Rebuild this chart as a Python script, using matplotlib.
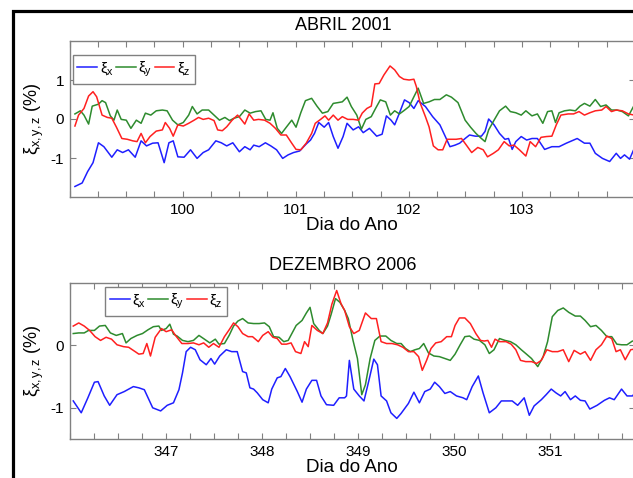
import matplotlib
matplotlib.use('Agg')
import matplotlib.pyplot as plt
from matplotlib.ticker import MultipleLocator, FixedLocator
from matplotlib.patches import Rectangle

plt.rcParams['font.family'] = ['Liberation Sans', 'DejaVu Sans']
plt.rcParams['mathtext.fontset'] = 'custom'
plt.rcParams['mathtext.rm'] = 'Liberation Sans'
plt.rcParams['mathtext.it'] = 'Liberation Sans'
plt.rcParams['axes.unicode_minus'] = False

# ---- ABRIL 2001 (days 99-104) ----
abr_day_x = [99.048, 99.112, 99.160, 99.208, 99.256, 99.304, 99.374, 99.422, 99.470, 99.521,
             99.581, 99.633, 99.681, 99.735, 99.783, 99.837, 99.879, 99.917, 99.958, 100.013,
             100.070, 100.128, 100.182, 100.230, 100.294, 100.342, 100.390, 100.444, 100.502, 100.550,
             100.597, 100.629, 100.677, 100.732, 100.780, 100.831, 100.885, 100.933, 100.981, 101.035,
             101.093, 101.131, 101.166, 101.204, 101.252, 101.291, 101.332, 101.374, 101.419, 101.454,
             101.508, 101.556, 101.597, 101.652, 101.716, 101.764, 101.802, 101.843, 101.875, 101.917,
             101.962, 102.003, 102.045, 102.083, 102.147, 102.211, 102.275, 102.323, 102.364, 102.409,
             102.450, 102.498, 102.537, 102.588, 102.642, 102.674, 102.706, 102.754, 102.802, 102.850,
             102.882, 102.914, 102.946, 102.994, 103.042, 103.089, 103.137, 103.201, 103.265, 103.329,
             103.393, 103.489, 103.553, 103.601, 103.649, 103.712, 103.776, 103.834, 103.872, 103.907,
             103.952, 103.994]
abr_xi_x = [-1.73, -1.64, -1.35, -1.12, -0.61, -0.71, -0.98, -0.79, -0.86, -0.79,
            -0.98, -0.56, -0.69, -0.62, -0.61, -1.12, -0.61, -0.56, -0.97, -0.98,
            -0.79, -1.01, -0.86, -0.79, -0.56, -0.61, -0.69, -0.61, -0.84, -0.71,
            -0.79, -0.67, -0.71, -0.61, -0.69, -0.79, -1.01, -0.92, -0.86, -0.82,
            -0.64, -0.54, -0.37, -0.09, -0.21, -0.09, -0.45, -0.75, -0.45, -0.11,
            -0.28, -0.20, -0.35, -0.24, -0.44, -0.39, 0.08, -0.03, -0.15, 0.15,
            0.49, 0.42, 0.27, 0.47, 0.32, 0.06, -0.15, -0.45, -0.71, -0.67,
            -0.62, -0.50, -0.41, -0.44, -0.44, -0.32, 0.00, -0.15, -0.37, -0.52,
            -0.50, -0.78, -0.58, -0.45, -0.54, -0.50, -0.50, -0.78, -0.71, -0.71,
            -0.62, -0.50, -0.62, -0.62, -0.88, -1.01, -1.09, -0.88, -1.01, -0.92,
            -1.03, -0.75]

abr_day_y = [99.048, 99.096, 99.128, 99.169, 99.201, 99.256, 99.288, 99.319, 99.361, 99.393,
             99.422, 99.457, 99.502, 99.543, 99.591, 99.633, 99.671, 99.719, 99.767, 99.821,
             99.863, 99.911, 99.958, 100.006, 100.054, 100.086, 100.128, 100.173, 100.230, 100.278,
             100.326, 100.374, 100.415, 100.454, 100.502, 100.550, 100.597, 100.645, 100.693, 100.735,
             100.773, 100.799, 100.837, 100.875, 100.917, 100.965, 101.003, 101.045, 101.086, 101.141,
             101.188, 101.236, 101.284, 101.332, 101.374, 101.412, 101.454, 101.492, 101.540, 101.581,
             101.620, 101.668, 101.706, 101.748, 101.796, 101.837, 101.875, 101.917, 101.955, 102.003,
             102.045, 102.083, 102.131, 102.179, 102.227, 102.275, 102.332, 102.377, 102.435, 102.498,
             102.546, 102.594, 102.642, 102.674, 102.706, 102.754, 102.802, 102.856, 102.898, 102.946,
             102.994, 103.035, 103.089, 103.137, 103.185, 103.227, 103.265, 103.297, 103.329, 103.377,
             103.425, 103.473, 103.514, 103.553, 103.601, 103.649, 103.696, 103.744, 103.792, 103.840,
             103.888, 103.942, 103.994]
abr_xi_y = [0.13, 0.21, 0.10, -0.13, 0.33, 0.38, 0.47, 0.42, 0.08, -0.03,
            0.23, -0.01, -0.03, -0.24, -0.03, -0.11, 0.15, 0.10, 0.21, 0.23,
            0.21, -0.03, -0.15, -0.09, 0.10, 0.32, 0.13, 0.23, 0.23, 0.10,
            -0.03, 0.04, -0.04, 0.02, 0.06, 0.23, 0.15, 0.19, 0.21, -0.01,
            -0.03, 0.16, -0.24, -0.37, -0.21, -0.03, -0.21, 0.16, 0.47, 0.53,
            0.33, 0.15, 0.19, 0.40, 0.42, 0.44, 0.56, 0.32, 0.10, -0.26,
            -0.01, 0.06, 0.27, 0.49, 0.44, 0.10, 0.21, 0.13, 0.21, 0.32,
            0.57, 0.79, 0.40, 0.44, 0.50, 0.50, 0.62, 0.56, 0.42, -0.03,
            -0.21, -0.37, -0.50, -0.58, -0.28, -0.03, 0.21, 0.33, 0.19, 0.16,
            0.10, 0.21, 0.08, 0.13, -0.11, 0.19, 0.21, -0.09, 0.16, 0.21,
            0.23, 0.21, 0.33, 0.40, 0.33, 0.50, 0.32, 0.36, 0.23, 0.23,
            0.19, 0.08, 0.36]

abr_day_z = [99.048, 99.080, 99.128, 99.169, 99.208, 99.240, 99.288, 99.335, 99.374, 99.415,
             99.463, 99.511, 99.559, 99.597, 99.633, 99.671, 99.712, 99.767, 99.821, 99.847,
             99.885, 99.917, 99.958, 100.006, 100.054, 100.102, 100.141, 100.182, 100.230, 100.278,
             100.310, 100.351, 100.390, 100.438, 100.486, 100.518, 100.550, 100.588, 100.629, 100.671,
             100.725, 100.773, 100.821, 100.869, 100.917, 100.965, 101.003, 101.045, 101.093, 101.141,
             101.173, 101.220, 101.259, 101.291, 101.332, 101.374, 101.412, 101.460, 101.508, 101.556,
             101.588, 101.629, 101.668, 101.700, 101.738, 101.780, 101.834, 101.875, 101.917, 101.955,
             102.003, 102.045, 102.067, 102.099, 102.147, 102.179, 102.217, 102.259, 102.300, 102.339,
             102.377, 102.419, 102.466, 102.514, 102.556, 102.610, 102.658, 102.696, 102.748, 102.792,
             102.843, 102.888, 102.930, 102.978, 103.035, 103.073, 103.121, 103.169, 103.217, 103.265,
             103.304, 103.345, 103.409, 103.457, 103.505, 103.553, 103.601, 103.649, 103.706, 103.744,
             103.792, 103.834, 103.888, 103.942, 103.994]
abr_xi_z = [-0.18, 0.10, 0.27, 0.59, 0.70, 0.57, 0.10, 0.04, 0.02, -0.21,
            -0.50, -0.52, -0.56, -0.58, -0.37, -0.61, -0.45, -0.31, -0.28, -0.09,
            -0.24, -0.44, -0.15, -0.18, -0.11, -0.03, 0.04, -0.01, 0.02, -0.04,
            -0.28, -0.30, -0.20, -0.03, 0.10, -0.01, -0.13, 0.13, -0.03, -0.01,
            -0.03, -0.11, -0.24, -0.41, -0.41, -0.62, -0.78, -0.79, -0.62, -0.37,
            -0.11, -0.01, 0.08, -0.03, 0.10, -0.03, 0.06, -0.01, -0.01, -0.03,
            0.15, 0.27, 0.33, 0.90, 0.91, 1.13, 1.36, 1.26, 1.09, 1.02,
            1.00, 1.02, 0.83, 0.42, 0.06, -0.20, -0.69, -0.79, -0.79, -0.52,
            -0.52, -0.52, -0.50, -0.69, -0.86, -0.73, -0.79, -0.97, -0.88, -0.79,
            -0.58, -0.69, -0.67, -0.79, -0.95, -0.58, -0.71, -0.47, -0.45, -0.44,
            -0.15, 0.10, 0.13, 0.13, 0.19, 0.10, 0.16, 0.21, 0.23, 0.32,
            0.19, 0.23, 0.21, 0.13, 0.10]

# ---- DEZEMBRO 2006 (days 346-352) ----
dez_day_x = [346.039, 346.122, 346.191, 346.259, 346.297, 346.361, 346.418, 346.494, 346.569, 346.664,
             346.721, 346.778, 346.865, 346.948, 347.016, 347.081, 347.138, 347.175, 347.213, 347.259,
             347.308, 347.357, 347.422, 347.471, 347.509, 347.562, 347.630, 347.687, 347.744, 347.800,
             347.838, 347.876, 347.914, 347.952, 348.009, 348.066, 348.103, 348.160, 348.198, 348.244,
             348.293, 348.369, 348.418, 348.463, 348.520, 348.569, 348.615, 348.672, 348.747, 348.804,
             348.861, 348.880, 348.910, 348.956, 349.013, 349.062, 349.115, 349.164, 349.202, 349.240,
             349.297, 349.342, 349.403, 349.448, 349.524, 349.581, 349.638, 349.694, 349.751, 349.797,
             349.846, 349.903, 349.959, 350.024, 350.092, 350.130, 350.187, 350.251, 350.300, 350.365,
             350.433, 350.490, 350.547, 350.603, 350.660, 350.728, 350.781, 350.831, 350.906, 350.956,
             351.009, 351.058, 351.107, 351.153, 351.209, 351.259, 351.312, 351.361, 351.410, 351.486,
             351.562, 351.615, 351.664, 351.740, 351.797, 351.853, 351.903]
dez_xi_x = [-0.89, -1.08, -0.84, -0.59, -0.58, -0.81, -0.96, -0.79, -0.74, -0.66,
            -0.68, -0.71, -1.00, -1.05, -0.96, -0.92, -0.71, -0.44, -0.10, -0.03,
            -0.07, -0.23, -0.31, -0.21, -0.30, -0.17, -0.07, -0.10, -0.10, -0.42,
            -0.44, -0.68, -0.70, -0.76, -0.87, -0.92, -0.70, -0.52, -0.50, -0.37,
            -0.50, -0.74, -0.91, -0.70, -0.56, -0.56, -0.81, -0.95, -0.96, -0.84,
            -0.84, -0.81, -0.24, -0.70, -0.81, -0.89, -0.55, -0.22, -0.31, -0.81,
            -0.89, -1.08, -1.17, -1.09, -0.93, -0.75, -0.92, -0.74, -0.70, -0.59,
            -0.66, -0.77, -0.74, -0.81, -0.84, -0.87, -0.66, -0.49, -0.76, -1.08,
            -1.00, -0.89, -0.89, -0.89, -0.96, -0.84, -1.12, -0.97, -0.87, -0.79,
            -0.70, -0.76, -0.81, -0.74, -0.87, -0.81, -0.88, -0.89, -1.02, -0.96,
            -0.88, -0.84, -0.87, -0.70, -0.81, -0.81, -0.72]

dez_day_y = [346.039, 346.096, 346.153, 346.198, 346.259, 346.312, 346.372, 346.425, 346.486, 346.550,
             346.588, 346.638, 346.702, 346.759, 346.816, 346.872, 346.929, 346.956, 347.005, 347.043,
             347.081, 347.119, 347.175, 347.232, 347.289, 347.346, 347.403, 347.459, 347.516, 347.554,
             347.611, 347.660, 347.706, 347.751, 347.800, 347.857, 347.914, 347.971, 348.028, 348.077,
             348.122, 348.179, 348.228, 348.274, 348.312, 348.357, 348.418, 348.463, 348.501, 348.539,
             348.596, 348.634, 348.683, 348.721, 348.766, 348.812, 348.861, 348.899, 348.948, 348.994,
             349.039, 349.077, 349.126, 349.175, 349.228, 349.289, 349.342, 349.403, 349.448, 349.494,
             349.543, 349.592, 349.638, 349.683, 349.732, 349.789, 349.846, 349.903, 349.959, 350.009,
             350.062, 350.111, 350.160, 350.206, 350.263, 350.319, 350.365, 350.414, 350.471, 350.528,
             350.585, 350.641, 350.698, 350.744, 350.804, 350.869, 350.925, 350.971, 351.020, 351.077,
             351.134, 351.191, 351.259, 351.312, 351.361, 351.418, 351.474, 351.531, 351.588, 351.638,
             351.691, 351.740, 351.797, 351.853, 351.903]
dez_xi_y = [0.19, 0.20, 0.20, 0.24, 0.24, 0.31, 0.32, 0.20, 0.16, 0.19,
            0.04, 0.11, 0.16, 0.19, 0.25, 0.30, 0.31, 0.24, 0.27, 0.34,
            0.18, 0.15, 0.08, 0.06, 0.08, 0.16, 0.10, 0.04, 0.10, 0.02,
            0.03, 0.16, 0.31, 0.39, 0.43, 0.36, 0.35, 0.35, 0.36, 0.30,
            0.14, 0.13, 0.06, 0.08, 0.19, 0.32, 0.40, 0.52, 0.61, 0.35,
            0.24, 0.19, 0.31, 0.50, 0.75, 0.69, 0.56, 0.43, 0.08, -0.21,
            -0.79, -0.63, -0.21, 0.08, 0.15, 0.15, 0.08, 0.03, 0.03, -0.05,
            -0.10, -0.07, -0.05, 0.03, -0.12, -0.17, -0.18, -0.21, -0.24, -0.14,
            0.01, 0.14, 0.15, 0.10, 0.08, 0.01, -0.13, -0.07, 0.11, 0.08,
            0.06, 0.01, -0.07, -0.13, -0.21, -0.34, -0.18, 0.06, 0.46, 0.56,
            0.60, 0.53, 0.47, 0.47, 0.40, 0.30, 0.32, 0.24, 0.14, 0.14,
            0.02, 0.01, 0.01, 0.07, 0.06]

dez_day_z = [346.039, 346.096, 346.153, 346.209, 346.266, 346.323, 346.380, 346.437, 346.494, 346.562,
             346.615, 346.683, 346.721, 346.766, 346.804, 346.842, 346.891, 346.956, 347.005, 347.062,
             347.107, 347.168, 347.232, 347.289, 347.346, 347.395, 347.448, 347.497, 347.554, 347.611,
             347.660, 347.706, 347.751, 347.800, 347.857, 347.903, 347.963, 348.009, 348.066, 348.115,
             348.160, 348.206, 348.255, 348.304, 348.350, 348.406, 348.444, 348.482, 348.520, 348.577,
             348.634, 348.683, 348.728, 348.778, 348.823, 348.861, 348.910, 348.956, 349.013, 349.077,
             349.138, 349.191, 349.240, 349.297, 349.353, 349.410, 349.467, 349.524, 349.581, 349.630,
             349.668, 349.713, 349.759, 349.808, 349.865, 349.922, 349.971, 350.009, 350.054, 350.111,
             350.168, 350.225, 350.274, 350.312, 350.350, 350.388, 350.425, 350.471, 350.539, 350.592,
             350.641, 350.690, 350.744, 350.804, 350.857, 350.906, 350.963, 351.020, 351.077, 351.134,
             351.191, 351.247, 351.312, 351.361, 351.418, 351.474, 351.531, 351.588, 351.638, 351.683,
             351.728, 351.778, 351.835, 351.903]
dez_xi_z = [0.31, 0.36, 0.31, 0.24, 0.14, 0.08, 0.13, 0.10, 0.01, -0.02,
            -0.03, -0.10, -0.14, -0.13, 0.03, -0.17, 0.13, 0.27, 0.22, 0.25,
            0.15, 0.03, 0.03, 0.04, 0.01, 0.04, -0.03, 0.03, -0.03, 0.14,
            0.25, 0.36, 0.30, 0.19, 0.14, 0.14, 0.06, 0.16, 0.22, 0.13,
            0.11, 0.02, 0.02, 0.04, -0.10, -0.13, 0.06, -0.02, 0.32, 0.24,
            0.19, 0.36, 0.66, 0.88, 0.67, 0.56, 0.30, 0.19, 0.24, 0.52,
            0.43, 0.43, 0.06, 0.03, 0.03, 0.01, -0.03, -0.10, -0.10, -0.18,
            -0.40, -0.24, -0.05, 0.04, 0.06, 0.14, 0.14, 0.32, 0.44, 0.44,
            0.35, 0.19, 0.08, 0.07, 0.08, -0.03, 0.10, 0.06, 0.06, 0.02,
            -0.07, -0.24, -0.26, -0.26, -0.29, -0.24, -0.07, -0.10, -0.10, -0.07,
            -0.26, -0.08, -0.14, -0.10, -0.24, -0.07, 0.01, 0.15, 0.11, -0.10,
            -0.07, -0.23, -0.07, -0.05]

abr_xticks = [100, 101, 102, 103]
abr_yticks = [-1, 0, 1]
dez_xticks = [347, 348, 349, 350, 351]
dez_yticks = [-1, 0]

BLUE = '#1f1fff'
GREEN = '#2e8b2e'
RED = '#ff2020'
SPINE = '#808080'

W, H = 633, 478
fig = plt.figure(figsize=(W / 100, H / 100), dpi=100)


def style_axes(ax, xlim, ylim, xticks, yticks):
  ax.set_xlim(*xlim)
  ax.set_ylim(*ylim)
  ax.xaxis.set_major_locator(FixedLocator(xticks))
  ax.xaxis.set_minor_locator(MultipleLocator(0.25))
  ax.yaxis.set_major_locator(FixedLocator(yticks))
  ax.tick_params(which='both', direction='in', length=4, width=0.8, color=SPINE,
                 top=True, right=True, labelsize=11, pad=4)
  for s in ax.spines.values():
    s.set_color(SPINE)
    s.set_linewidth(1.0)
  ax.set_xlabel('Dia do Ano', fontsize=13.5, labelpad=0)
  ax.set_ylabel(r'$\xi_{\mathrm{x,y,z}}$ (%)', fontsize=13)
  ax.yaxis.set_label_coords(-0.042, 0.5)


def draw_series(ax, dx, x, dy, y, dz, z, anchor):
  ax.plot(dx, x, color=BLUE, lw=1.1, label=r'$\xi_\mathrm{x}$')
  ax.plot(dy, y, color=GREEN, lw=1.1, label=r'$\xi_\mathrm{y}$')
  ax.plot(dz, z, color=RED, lw=1.1, label=r'$\xi_\mathrm{z}$')
  leg = ax.legend(loc='upper left', bbox_to_anchor=anchor, ncol=3, fontsize=11,
                  handlelength=1.3, handletextpad=0.15, columnspacing=0.15,
                  borderpad=0.3, borderaxespad=0, fancybox=False, framealpha=1)
  leg.get_frame().set_edgecolor(SPINE)
  leg.get_frame().set_linewidth(1.0)


left = 69.5 / W
width = (635 - 69.5) / W
height = (197 - 41) / H

ax1 = fig.add_axes([left, (H - 197) / H, width, height])
style_axes(ax1, (99, 104), (-2, 2), abr_xticks, abr_yticks)
draw_series(ax1, abr_day_x, abr_xi_x, abr_day_y, abr_xi_y, abr_day_z, abr_xi_z, (0.006, 0.91))
fig.text(343 / W, 1 - 25 / H, 'ABRIL 2001', ha='center', va='center', fontsize=13)

ax2 = fig.add_axes([left, (H - 439) / H, width, height])
style_axes(ax2, (346, 351.88), (-1.5, 1), dez_xticks, dez_yticks)
draw_series(ax2, dez_day_x, dez_xi_x, dez_day_y, dez_xi_y, dez_day_z, dez_xi_z, (0.063, 0.974))
fig.text(343 / W, 1 - 266 / H, 'DEZEMBRO 2006', ha='center', va='center', fontsize=13)

# thick outer frame (cropped at right and bottom in the original)
frame = Rectangle((13.3 / W, -0.2), 1.2, 1.2 - 11 / H, transform=fig.transFigure,
                  fill=False, edgecolor='black', lw=2.3, clip_on=False)
fig.add_artist(frame)

fig.savefig('out.png', dpi=100)
